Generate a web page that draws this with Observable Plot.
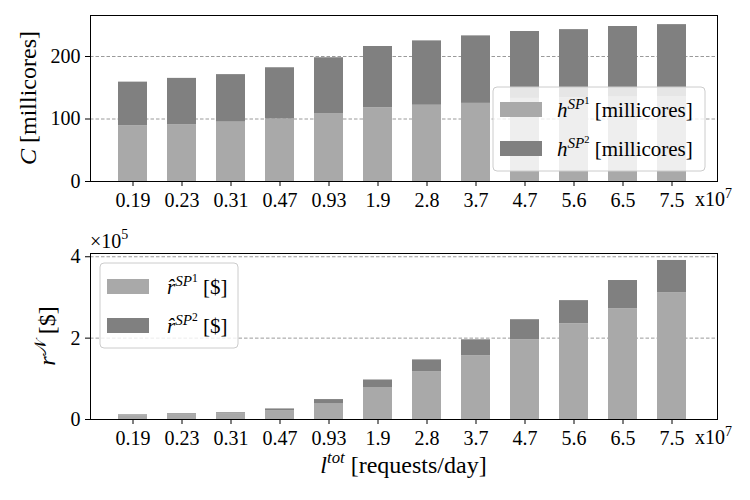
<!DOCTYPE html>
<html>
<head>
<meta charset="utf-8">
<script src="https://cdn.jsdelivr.net/npm/d3@7"></script>
<script src="https://cdn.jsdelivr.net/npm/@observablehq/plot@0.6"></script>
<style>
  html, body { margin: 0; padding: 0; background: #fff; }
  #chart { width: 750px; height: 500px; position: relative; }
  #chart svg { display: block; }
  text { white-space: pre; }
</style>
</head>
<body>
<div id="chart"></div>
<script>
// ---- data ----
const categories = ["0.19","0.23","0.31","0.47","0.93","1.9","2.8","3.7","4.7","5.6","6.5","7.5"]; // ×10^7 requests/day
const hSP1 = [89, 91, 95, 100, 108, 118, 122, 125, 133, 134, 135, 136];      // millicores
const hSP2 = [70, 74, 76, 82, 90, 98, 103, 108, 107, 109, 113, 115];        // millicores
const rSP1 = [0.09, 0.12, 0.145, 0.21, 0.38, 0.774, 1.169, 1.564, 1.959, 2.354, 2.724, 3.119]; // ×10^5 $
const rSP2 = [0.023, 0.02, 0.02, 0.05, 0.11, 0.197, 0.296, 0.395, 0.494, 0.568, 0.692, 0.79];  // ×10^5 $
const topTicks = [0, 100, 200];
const bottomTicks = [0, 2, 4];
const seriesNames = ["SP1", "SP2"];
const seriesColors = ["#a9a9a9", "#808080"];

const SERIF = "'Liberation Serif', 'Times New Roman', serif";

function rows(a, b) {
  const out = [];
  categories.forEach((c, i) => {
    out.push({cat: c, series: seriesNames[0], value: a[i]});
    out.push({cat: c, series: seriesNames[1], value: b[i]});
  });
  return out;
}

function rich(parent, x, y, segs, {size = 20, anchor = "start", rotate = false} = {}) {
  const t = parent.append("text")
    .attr("x", x).attr("y", y)
    .attr("font-family", SERIF)
    .attr("font-size", size)
    .attr("text-anchor", anchor)
    .attr("fill", "black")
    .style("white-space", "pre");
  if (rotate) t.attr("transform", `rotate(-90 ${x} ${y})`);
  let rise = 0;
  for (const [txt, o = {}] of segs) {
    const r = o.rise || 0;
    const ts = t.append("tspan").text(txt)
      .attr("dy", -(r - rise))
      .attr("font-size", size * (o.scale || 1));
    if (o.italic) ts.attr("font-style", "italic");
    rise = r;
  }
  return t;
}

function legend(svg, box, items) {
  const g = d3.select(svg).append("g");
  g.append("rect")
    .attr("x", box.x).attr("y", box.y).attr("width", box.w).attr("height", box.h)
    .attr("rx", 4).attr("fill", "white").attr("fill-opacity", 0.8)
    .attr("stroke", "#cccccc").attr("stroke-width", 1);
  items.forEach((it, i) => {
    const py = box.y + box.pad + i * box.step;
    g.append("rect").attr("x", box.x + 7).attr("y", py).attr("width", 42).attr("height", 15)
      .attr("fill", it.color);
    rich(g, box.x + box.tx, py + 15, it.segs, {size: 21});
  });
}

function stacked({a, b, yDomain, yTicks, height, marginTop, marginBottom}) {
  return Plot.plot({
    width: 750,
    height,
    marginLeft: 90,
    marginRight: 33,
    marginTop,
    marginBottom,
    style: {fontFamily: SERIF, fontSize: "20px", background: "white", color: "black", overflow: "visible"},
    x: {type: "band", domain: categories, paddingInner: 0.4, paddingOuter: 0.2, insetLeft: 18.5, insetRight: 20.5, label: null},
    y: {domain: yDomain, label: null},
    color: {domain: seriesNames, range: seriesColors},
    marks: [
      Plot.gridY(yTicks.filter(d => d !== 0), {stroke: "#808080", strokeOpacity: 1, strokeWidth: 0.8, strokeDasharray: "3.5,2"}),
      Plot.barY(rows(a, b), {x: "cat", y: "value", fill: "series"}),
      Plot.frame({stroke: "black", strokeWidth: 1}),
      Plot.axisY({ticks: yTicks, tickSize: 5, tickPadding: 5, tickFormat: d => String(d), fontSize: 20, label: null}),
      Plot.axisX({tickSize: 5, tickPadding: 6, fontSize: 20, label: null})
    ]
  });
}

const root = d3.select("#chart");

// ---- top chart ----
const topSvg = stacked({a: hSP1, b: hSP2, yDomain: [0, 265.6], yTicks: topTicks, height: 222, marginTop: 15, marginBottom: 41});
root.node().appendChild(topSvg);
const tsel = d3.select(topSvg);
rich(tsel, 36, 98, [["C", {italic: true}], [" [millicores]"]], {size: 24, anchor: "middle", rotate: true});
rich(tsel, 695, 206, [["x10"], ["7", {scale: 0.7, rise: 8}]], {size: 20});
legend(topSvg, {x: 493, y: 87, w: 212, h: 84, pad: 15, step: 39, tx: 64}, [
  {color: seriesColors[0], segs: [["h", {italic: true}], ["SP", {italic: true, scale: 0.72, rise: 8}], ["1", {scale: 0.5, rise: 13}], [" [millicores]", {rise: 0}]]},
  {color: seriesColors[1], segs: [["h", {italic: true}], ["SP", {italic: true, scale: 0.72, rise: 8}], ["2", {scale: 0.5, rise: 13}], [" [millicores]", {rise: 0}]]}
]);

// ---- bottom chart ----
const bottomSvg = stacked({a: rSP1, b: rSP2, yDomain: [0, 4.08], yTicks: bottomTicks, height: 278, marginTop: 31, marginBottom: 81});
root.node().appendChild(bottomSvg);
const bsel = d3.select(bottomSvg);
rich(bsel, 55, 114, [["r", {italic: true}], ["𝒩", {scale: 0.7, rise: 9}], [" [$]", {rise: 0}]], {size: 24, anchor: "middle", rotate: true});
rich(bsel, 90, 26, [["×10"], ["5", {scale: 0.7, rise: 9}]], {size: 20});
rich(bsel, 695, 222, [["x10"], ["7", {scale: 0.7, rise: 8}]], {size: 20});
rich(bsel, 403.5, 251, [["l", {italic: true}], ["tot", {italic: true, scale: 0.7, rise: 10}], [" [requests/day]", {rise: 0}]], {size: 24, anchor: "middle"});
legend(bottomSvg, {x: 100, y: 41, w: 138, h: 85, pad: 16, step: 39, tx: 67}, [
  {color: seriesColors[0], segs: [["r\u0302", {italic: true}], ["SP", {italic: true, scale: 0.72, rise: 8}], ["1", {scale: 0.55, rise: 12}], [" [$]", {rise: 0}]]},
  {color: seriesColors[1], segs: [["r\u0302", {italic: true}], ["SP", {italic: true, scale: 0.72, rise: 8}], ["2", {scale: 0.55, rise: 12}], [" [$]", {rise: 0}]]}
]);
</script>
</body>
</html>
